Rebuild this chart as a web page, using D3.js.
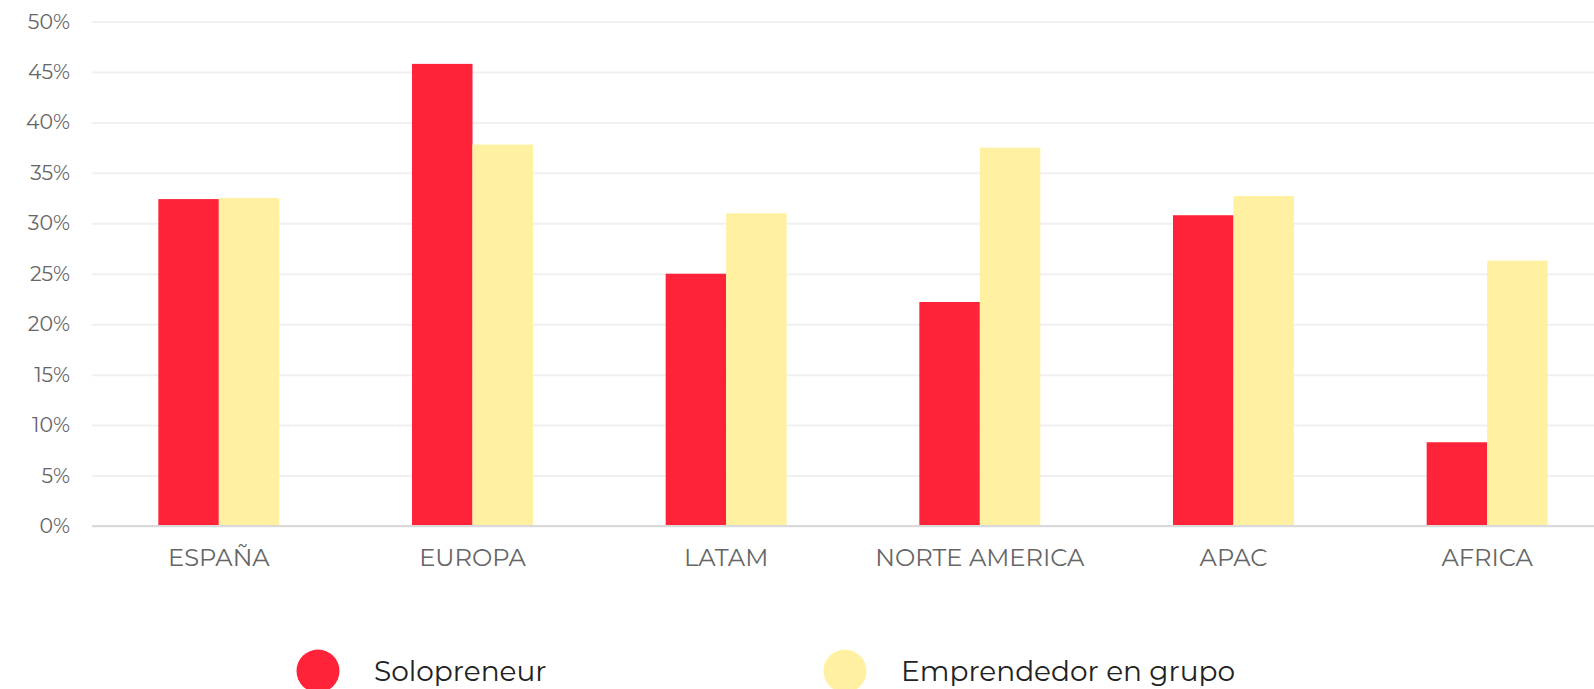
<!DOCTYPE html>
<html>
<head>
<meta charset="utf-8">
<script src="https://cdn.jsdelivr.net/npm/d3@7"></script>
<style>
  body { margin: 0; background: #fff; }
  text { font-family: Montserrat, "DejaVu Sans", sans-serif; }
</style>
</head>
<body>
<svg id="chart"></svg>
<script>
// Chart data
var regions = ["ESPAÑA", "EUROPA", "LATAM", "NORTE AMERICA", "APAC", "AFRICA"];
var seriesNames = ["Solopreneur", "Emprendedor en grupo"];
var solopreneur = [32.4, 45.8, 25.0, 22.2, 30.8, 8.3];
var enGrupo = [32.5, 37.8, 31.0, 37.5, 32.7, 26.3];
var yTicks = [0, 5, 10, 15, 20, 25, 30, 35, 40, 45, 50];
var colors = ["#ff2339", "#fff1a1"];

var width = 1594, height = 689;

var svg = d3.select("#chart")
    .attr("width", width)
    .attr("height", height);

var rows = regions.map(function(r, i) {
  return { region: r, values: [solopreneur[i], enGrupo[i]] };
});

var x0 = d3.scaleBand()
    .domain(regions)
    .range([92, 1614])
    .paddingInner(0.523)
    .paddingOuter(0.2615);

var x1 = d3.scaleBand()
    .domain([0, 1])
    .range([0, x0.bandwidth()]);

var y = d3.scaleLinear()
    .domain([0, 50])
    .range([526, 21.5]);

// Gridlines + y labels
var yAxis = svg.append("g")
    .attr("transform", "translate(92,0)")
    .call(d3.axisLeft(y)
      .tickValues(yTicks)
      .tickSize(-(width - 92))
      .tickFormat(function(d) { return d + "%"; }));

yAxis.select(".domain").remove();
yAxis.selectAll(".tick line")
    .attr("stroke", "#f0f0f0")
    .attr("stroke-width", 2);
yAxis.selectAll(".tick text")
    .attr("x", -22)
    .attr("fill", "#666")
    .attr("font-size", "20.5px");

// Bars
var groups = svg.append("g")
  .selectAll("g")
  .data(rows)
  .enter()
  .append("g")
    .attr("transform", function(d) { return "translate(" + x0(d.region) + ",0)"; });

groups.selectAll("rect")
  .data(function(d) { return d.values; })
  .enter()
  .append("rect")
    .attr("x", function(d, i) { return x1(i); })
    .attr("y", function(d) { return y(d); })
    .attr("width", x1.bandwidth())
    .attr("height", function(d) { return y(0) - y(d); })
    .attr("fill", function(d, i) { return colors[i]; });

// Baseline + category labels
var xAxis = svg.append("g")
    .attr("transform", "translate(0," + y(0) + ")")
    .call(d3.axisBottom(x0).tickSize(0));

xAxis.select(".domain")
    .attr("stroke", "#d9d9d9")
    .attr("stroke-width", 2)
    .attr("d", "M92,0H" + width);
xAxis.selectAll(".tick text")
    .attr("y", 0)
    .attr("dy", "40px")
    .attr("fill", "#666")
    .attr("font-size", "24.2px");

// Legend
var legendX = [318, 845];
var legend = svg.append("g")
  .selectAll("g")
  .data(seriesNames)
  .enter()
  .append("g")
    .attr("transform", function(d, i) { return "translate(" + legendX[i] + ",671)"; });

legend.append("circle")
    .attr("r", 21.5)
    .attr("fill", function(d, i) { return colors[i]; });

legend.append("text")
    .attr("x", 56)
    .attr("y", 10)
    .attr("font-size", "28px")
    .attr("fill", "#222")
    .text(function(d) { return d; });
</script>
</body>
</html>
